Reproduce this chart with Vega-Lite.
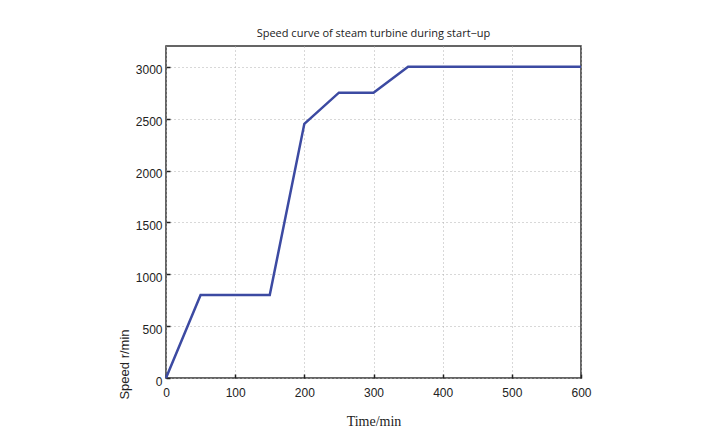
{
  "$schema": "https://vega.github.io/schema/vega-lite/v6.json",
  "width": 415,
  "height": 332,
  "autosize": {"type": "none"},
  "padding": {"left": 166, "top": 46, "right": 137, "bottom": 53},
  "background": "white",
  "title": {
    "text": "Speed curve of steam turbine during start\u2212up",
    "font": "Open Sans",
    "fontSize": 11,
    "fontWeight": "normal",
    "color": "#222",
    "offset": 7
  },
  "config": {
    "view": {"stroke": "#333", "strokeWidth": 1.5},
    "axis": {
      "domain": false,
      "tickColor": "#222",
      "tickSize": -4,
      "tickWidth": 1.5,
      "labelFont": "Liberation Sans",
      "labelFontSize": 12,
      "labelColor": "#222",
      "labelFlush": false,
      "grid": true,
      "gridColor": "#b0b0b0",
      "gridDash": [1, 3],
      "gridWidth": 1
    }
  },
  "data": {
    "values": [
      {"t": 0, "speed": 0},
      {"t": 50, "speed": 800},
      {"t": 150, "speed": 800},
      {"t": 200, "speed": 2450},
      {"t": 250, "speed": 2750},
      {"t": 300, "speed": 2750},
      {"t": 350, "speed": 3000},
      {"t": 600, "speed": 3000}
    ]
  },
  "mark": {"type": "line", "color": "#3c4aa2", "strokeWidth": 2.5},
  "encoding": {
    "x": {
      "field": "t",
      "type": "quantitative",
      "scale": {"domain": [0, 600], "nice": false},
      "axis": {
        "values": [0, 100, 200, 300, 400, 500, 600],
        "format": "d",
        "labelPadding": 18,
        "labelBaseline": "middle",
        "title": "Time/min",
        "titleFont": "Liberation Serif",
        "titleFontSize": 14,
        "titleFontWeight": "normal",
        "titleColor": "#222",
        "titlePadding": 16
      }
    },
    "y": {
      "field": "speed",
      "type": "quantitative",
      "scale": {"domain": [0, 3200], "nice": false},
      "axis": {
        "values": [0, 500, 1000, 1500, 2000, 2500, 3000],
        "format": "d",
        "labelPadding": 8,
        "labelOffset": 3,
        "title": "Speed r/min",
        "titleFont": "Liberation Sans",
        "titleFontSize": 13,
        "titleFontWeight": "normal",
        "titleColor": "#222",
        "titleAngle": -90,
        "titleAlign": "center",
        "titleBaseline": "bottom",
        "titleX": -35,
        "titleY": 318
      }
    }
  }
}
